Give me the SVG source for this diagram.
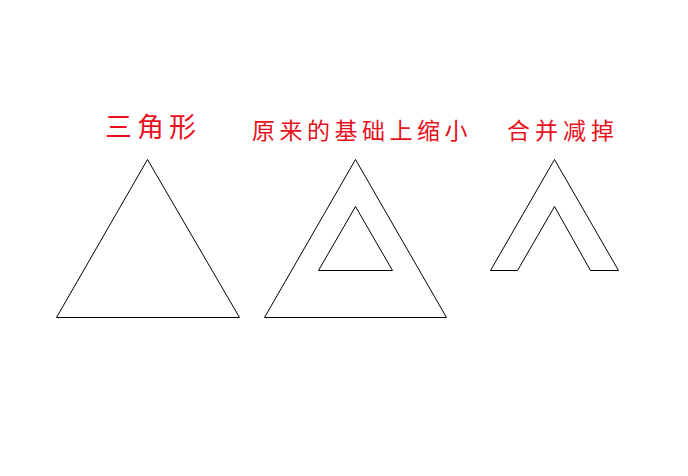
<svg xmlns="http://www.w3.org/2000/svg" width="688" height="476" viewBox="0 0 688 476">
<style>
.t{font-family:"Noto Sans CJK SC","Noto Sans",sans-serif;fill:#e8101c;font-weight:400;}
.s{fill:none;stroke:#000;stroke-width:1;}
</style>
<rect width="688" height="476" fill="#fff"/>
<g id="title1"><text class="t" x="105" y="137" font-size="27" letter-spacing="5">三角形</text></g>
<g id="title2"><text class="t" x="252" y="139" font-size="23" letter-spacing="4.5">原来的基础上缩小</text></g>
<g id="title3"><text class="t" x="507" y="139" font-size="23" letter-spacing="5">合并减掉</text></g>
<g id="triangle"><polygon class="s" points="147.5,159.5 56.5,317.5 239.5,317.5"/></g>
<g id="scaled">
<polygon class="s" points="355.5,159.5 264.5,317.5 446.5,317.5"/>
<polygon class="s" points="355.5,206.5 318.5,270.5 392.5,270.5"/>
</g>
<g id="merged"><polyline class="s" points="490.5,270.5 554.5,159.5 618.5,270.5 590.5,270.5 554.5,206.5 517.5,270.5 490.5,270.5"/></g>
</svg>
